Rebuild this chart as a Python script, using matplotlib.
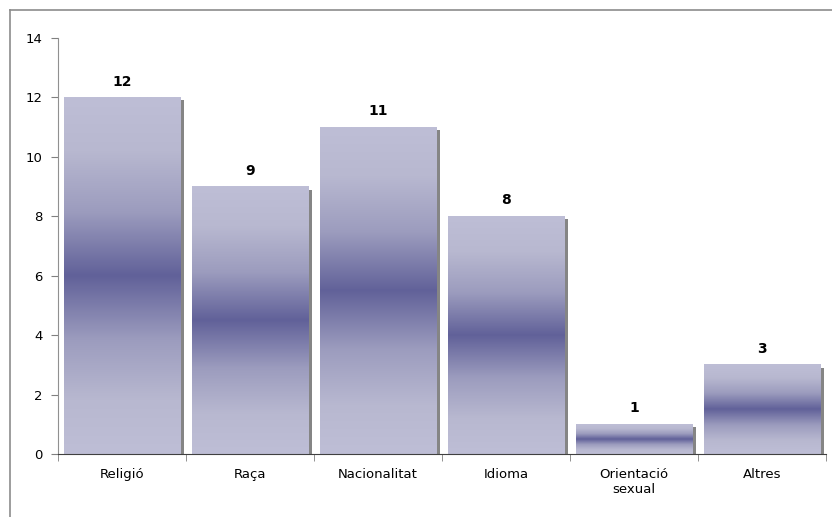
import matplotlib
matplotlib.use('Agg')
import matplotlib.pyplot as plt
import matplotlib.transforms as mtransforms
from matplotlib.colors import LinearSegmentedColormap
from matplotlib.lines import Line2D
import numpy as np

categories = ['Religió', 'Raça', 'Nacionalitat', 'Idioma', 'Orientació\nsexual', 'Altres']
values = [12, 9, 11, 8, 1, 3]

fig = plt.figure(figsize=(8.32, 5.17), dpi=100)
ax = fig.add_axes([58 / 832, 1 - 454 / 517, 768 / 832, 416 / 517])

# outer chart frame (clipped by the image on right/bottom)
fig.add_artist(Line2D([10 / 832, 10 / 832], [0, 1 - 10 / 517], color='#8c8c8c', lw=1.2))
fig.add_artist(Line2D([10 / 832, 1], [1 - 10 / 517, 1 - 10 / 517], color='#8c8c8c', lw=1.2))

cmap = LinearSegmentedColormap.from_list(
    'bar', [(0.0, '#bebed6'), (0.15, '#b8b8d0'), (0.32, '#9c9cbe'),
            (0.5, '#616199'), (0.68, '#9c9cbe'), (0.85, '#b8b8d0'), (1.0, '#bebed6')])
grad = np.linspace(0, 1, 256).reshape(-1, 1)

width = 0.91
x = np.arange(len(categories))

# shadow, shifted right and down a few pixels
shadow_tr = mtransforms.offset_copy(ax.transData, fig=fig, x=4, y=-3, units='dots')
ax.bar(x, values, width=width, color='#858585', transform=shadow_tr, zorder=1)

for xi, v in zip(x, values):
    ax.imshow(grad, cmap=cmap, aspect='auto', extent=(xi - width / 2, xi + width / 2, 0, v),
              origin='upper', zorder=2, interpolation='bilinear')
    ax.text(xi, v + 0.3, str(v), ha='center', va='bottom', fontsize=10, fontweight='bold',
            family='DejaVu Sans')

ax.set_xlim(-0.5, len(categories) - 0.5)
ax.set_ylim(0, 14)
ax.set_yticks(range(0, 15, 2))
ax.set_xticks(np.arange(len(categories) + 1) - 0.5, minor=True)
ax.set_xticks(x)
ax.set_xticklabels(categories, fontsize=9.5)
ax.tick_params(axis='x', which='major', length=0, pad=10)
ax.tick_params(axis='x', which='minor', length=5, color='#808080', direction='out')
ax.tick_params(axis='y', length=5, color='#808080', labelsize=9.5, pad=6)

for s in ['top', 'right']:
    ax.spines[s].set_visible(False)
ax.spines['left'].set_color('#909090')
ax.spines['bottom'].set_color('#404040')
ax.spines['bottom'].set_zorder(5)

fig.savefig('out.png', dpi=100)
